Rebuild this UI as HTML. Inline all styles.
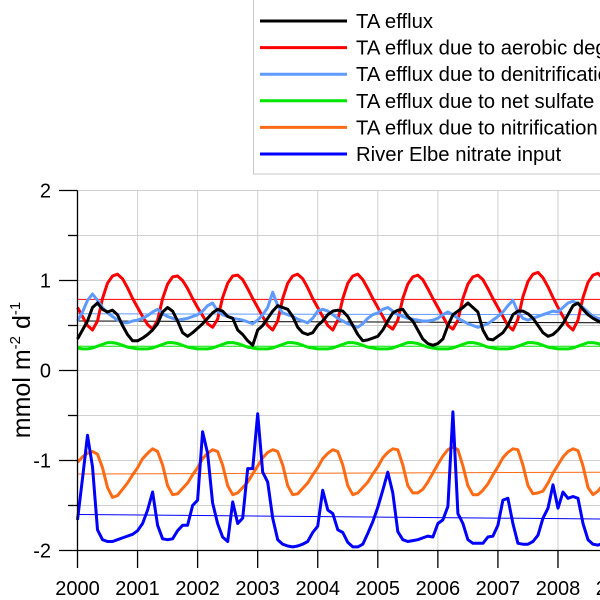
<!DOCTYPE html>
<html><head><meta charset="utf-8">
<style>
html,body{margin:0;padding:0;background:#fff;width:600px;height:600px;overflow:hidden}
svg{display:block;font-family:"Liberation Sans",Arial,sans-serif}
</style></head>
<body>
<svg id="chart" width="600" height="600" viewBox="0 0 600 600">
<g id="grid"></g>
<g id="trend"></g>
<g id="series"></g>
<g id="axes"></g>
<text transform="translate(30,370) rotate(-90)" text-anchor="middle" font-size="25" fill="#000">mmol m<tspan font-size="15" dy="-10">-2</tspan><tspan dy="10"> d</tspan><tspan font-size="15" dy="-10">-1</tspan></text>
<g id="legend">
<rect x="253.5" y="-2" width="360" height="176" fill="#fff" stroke="#c8c8c8" stroke-width="1"/>
</g>
</svg>
<script>
const startYear = 2000;
const yTicks = [2, 1, 0, -1, -2];
const xTickLabels = ["2000","2001","2002","2003","2004","2005","2006","2007","2008","2009"];
const seriesNames = ["TA efflux","TA efflux due to aerobic degradation","TA efflux due to denitrification","TA efflux due to net sulfate reduction","TA efflux due to nitrification","River Elbe nitrate input"];
const taEfflux = [
.35,.45,.55,.70,.75,.68,.65,.67,.62,.50,.40,.33,
.33,.36,.40,.45,.52,.65,.70,.66,.55,.42,.38,.42,
.47,.52,.58,.64,.68,.66,.60,.58,.45,.40,.33,.28,
.45,.50,.58,.66,.72,.70,.68,.60,.48,.42,.40,.42,
.50,.55,.62,.66,.67,.66,.60,.50,.40,.33,.34,.36,
.38,.45,.55,.64,.67,.68,.60,.55,.45,.35,.30,.28,
.30,.35,.50,.62,.66,.70,.75,.70,.65,.45,.35,.34,
.38,.42,.50,.62,.66,.66,.63,.58,.50,.42,.38,.40,
.45,.52,.62,.72,.75,.68,.62,.58,.55,.52];
const aerobic = [
.70,.60,.50,.45,.55,.80,.97,1.05,1.07,1.02,.92,.80,
.70,.60,.51,.46,.56,.80,.96,1.04,1.05,1.00,.91,.80,
.70,.61,.52,.48,.57,.81,.97,1.05,1.06,1.01,.91,.80,
.70,.60,.50,.45,.55,.80,.97,1.05,1.07,1.02,.92,.80,
.70,.60,.50,.45,.56,.80,.97,1.05,1.07,1.01,.91,.80,
.70,.60,.50,.46,.56,.80,.96,1.04,1.06,1.01,.91,.80,
.70,.60,.50,.46,.56,.80,.96,1.04,1.06,1.01,.91,.80,
.70,.60,.50,.45,.57,.82,.99,1.07,1.09,1.03,.93,.81,
.70,.60,.50,.45,.56,.81,.98,1.06,1.08,1.02];
const denitrification = [
.55,.65,.78,.85,.78,.70,.64,.60,.56,.53,.53,.55,
.56,.58,.61,.65,.68,.63,.60,.58,.56,.57,.58,.60,
.62,.66,.72,.75,.66,.62,.60,.58,.57,.56,.54,.52,
.56,.62,.70,.87,.72,.64,.62,.60,.57,.55,.53,.58,
.66,.68,.66,.62,.58,.55,.52,.50,.48,.52,.58,.62,
.64,.68,.70,.66,.62,.60,.58,.57,.56,.55,.55,.56,
.58,.62,.65,.62,.58,.55,.52,.50,.48,.50,.52,.56,
.60,.65,.72,.78,.65,.58,.56,.58,.60,.62,.64,.66,
.65,.70,.75,.77,.74,.70,.65,.60,.58,.56];
const sulfate = [
.25,.24,.24,.25,.27,.29,.31,.31,.30,.28,.26,.25,
.24,.24,.24,.25,.27,.29,.31,.31,.30,.28,.26,.25,
.24,.24,.24,.25,.27,.29,.31,.31,.30,.28,.26,.25,
.24,.24,.24,.25,.27,.29,.31,.31,.30,.28,.26,.25,
.24,.24,.24,.25,.27,.29,.31,.31,.30,.28,.26,.25,
.24,.24,.24,.25,.27,.29,.31,.31,.30,.28,.26,.25,
.24,.24,.24,.25,.27,.29,.31,.31,.30,.28,.26,.25,
.24,.24,.24,.25,.27,.29,.31,.31,.30,.28,.26,.25,
.24,.24,.24,.25,.27,.29,.31,.31,.30,.28];
const nitrification = [
-1.02,-.96,-.92,-.90,-.93,-1.08,-1.30,-1.41,-1.39,-1.32,-1.25,-1.16,
-1.08,-.98,-.92,-.87,-.90,-1.05,-1.28,-1.38,-1.37,-1.31,-1.25,-1.16,
-1.08,-.98,-.92,-.88,-.90,-1.05,-1.28,-1.38,-1.36,-1.30,-1.24,-1.15,
-1.06,-.97,-.91,-.88,-.90,-1.05,-1.28,-1.38,-1.37,-1.31,-1.25,-1.16,
-1.08,-.98,-.92,-.88,-.90,-1.05,-1.28,-1.38,-1.36,-1.30,-1.24,-1.15,
-1.07,-.97,-.91,-.87,-.88,-1.05,-1.28,-1.36,-1.36,-1.32,-1.24,-1.14,
-1.04,-.95,-.88,-.85,-.88,-1.06,-1.28,-1.38,-1.38,-1.33,-1.26,-1.16,
-1.07,-.97,-.91,-.87,-.88,-1.05,-1.28,-1.37,-1.36,-1.34,-1.25,-1.14,
-1.05,-.96,-.90,-.87,-.89,-1.06,-1.30,-1.38,-1.34,-1.27];
const nitrate = [
-1.66,-1.2,-.72,-1.07,-1.77,-1.88,-1.9,-1.9,-1.88,-1.86,-1.84,-1.82,
-1.78,-1.7,-1.55,-1.35,-1.72,-1.87,-1.88,-1.87,-1.78,-1.72,-1.72,-1.5,
-1.44,-.68,-.92,-1.47,-1.7,-1.85,-1.9,-1.46,-1.7,-1.64,-1.09,-1.09,
-.48,-1.13,-1.24,-1.64,-1.88,-1.93,-1.95,-1.96,-1.95,-1.93,-1.9,-1.8,
-1.73,-1.33,-1.55,-1.59,-1.77,-1.8,-1.91,-1.96,-1.96,-1.93,-1.81,-1.68,
-1.52,-1.33,-1.13,-1.36,-1.79,-1.88,-1.9,-1.89,-1.88,-1.86,-1.84,-1.85,
-1.7,-1.66,-1.51,-.46,-1.59,-1.7,-1.88,-1.92,-1.92,-1.92,-1.85,-1.84,
-1.72,-1.44,-1.42,-1.7,-1.92,-1.93,-1.93,-1.9,-1.83,-1.64,-1.53,-1.27,
-1.53,-1.35,-1.42,-1.4,-1.42,-1.7,-1.88,-1.93,-1.94,-1.92];
const trendStart = [0.55, 0.79, 0.63, 0.27, -1.15, -1.60];
const trendEnd = [0.53, 0.79, 0.62, 0.27, -1.13, -1.65];
const colors = ["#000000","#ff0000","#5f9bff","#00e600","#ff6a14","#0000ff"];
const trendColors = ["#000000","#ff0000","#5f9bff","#00e600","#ff6a14","#0000ff"];

const NS="http://www.w3.org/2000/svg";
const X0=77.5, PXY=60.06, Y0=370.5, PXU=90;
function xs(t){return X0+(t-startYear)*PXY;}
function ys(v){return Y0-v*PXU;}
function mk(tag,attrs,parent){const e=document.createElementNS(NS,tag);for(const k in attrs)e.setAttribute(k,attrs[k]);parent.appendChild(e);return e;}
const grid=document.getElementById('grid'),axes=document.getElementById('axes'),ser=document.getElementById('series'),tr=document.getElementById('trend'),leg=document.getElementById('legend');

for(let v=-2;v<=2.001;v+=0.5){
  const l=mk('line',{x1:X0,x2:600,y1:ys(v),y2:ys(v),stroke:'#d0d0d0','stroke-width':1},grid);
  
  
  const tk=mk('line',{x1:(Math.abs(v%1)<0.01?59:68),x2:X0,y1:ys(v),y2:ys(v),stroke:'#000','stroke-width':1.3},axes);
  
  
}
yTicks.forEach(v=>{
  const t=mk('text',{x:51,y:ys(v)+7,'text-anchor':'end','font-size':20,fill:'#000'},axes);
  t.textContent=String(v);
  
  
});
xTickLabels.forEach((lab,i)=>{
  const x=xs(startYear+i);
  const g=mk('line',{x1:x,x2:x,y1:ys(2),y2:ys(-2),stroke:'#d0d0d0','stroke-width':1},grid);
  
  
  const tk=mk('line',{x1:x,x2:x,y1:ys(-2),y2:568,stroke:'#000','stroke-width':1.3},axes);
  
  
  const t=mk('text',{x:x,y:595,'text-anchor':'middle','font-size':20,fill:'#000'},axes);
  t.textContent=lab;
  
  
});
const ya=mk('line',{x1:X0,x2:X0,y1:ys(2),y2:ys(-2),stroke:'#000','stroke-width':1.3},axes);


const xa=mk('line',{x1:X0,x2:600,y1:ys(-2),y2:ys(-2),stroke:'#000','stroke-width':1.3},axes);



const allSeries=[taEfflux,aerobic,denitrification,sulfate,nitrification,nitrate];
const sNames=['ta-efflux-line','aerobic-line','denitrification-line','sulfate-line','nitrification-line','nitrate-line'];
const tEnd=startYear+8.75;
allSeries.forEach((arr,si)=>{
  const tl=mk('line',{x1:xs(startYear),x2:xs(tEnd),y1:ys(trendStart[si]),y2:ys(trendEnd[si]),stroke:trendColors[si],'stroke-width':1},tr);
  
  
});
const order=[3,1,4,5,2,0];
order.forEach(si=>{
  const arr=allSeries[si];
  const pts=arr.map((v,i)=>xs(startYear+i/12).toFixed(1)+','+ys(v).toFixed(1)).join(' ');
  const p=mk('polyline',{points:pts,fill:'none',stroke:colors[si],'stroke-width':3,'stroke-linejoin':'round'},ser);
  
  
});
seriesNames.forEach((n,i)=>{
  const y=21+i*26.6;
  const l=mk('line',{x1:260,x2:347,y1:y,y2:y,stroke:colors[i],'stroke-width':3},leg);
  
  
  const t=mk('text',{x:356,y:y+7,'font-size':20.3,fill:'#000'},leg);
  t.textContent=n;
  
  
});
</script>
</body></html>
